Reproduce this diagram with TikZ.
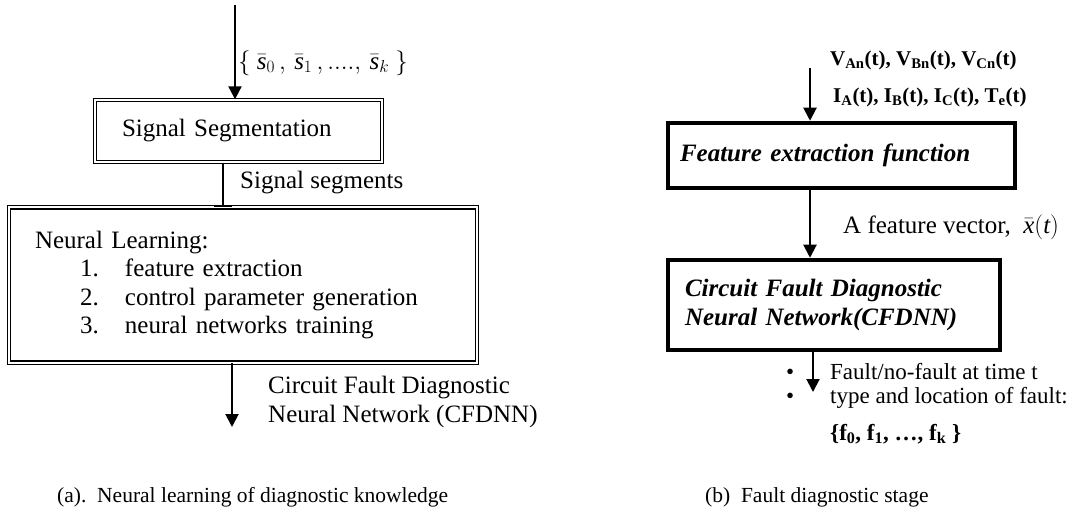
\documentclass[tikz,border=0pt]{standalone}
\usepackage{fontspec}
\setmainfont{Liberation Serif}
\usepackage{tikz}
\usetikzlibrary{arrows.meta,positioning}
\newcommand{\bodysize}{\fontsize{25}{28.5}\selectfont}
\newcommand{\labsize}{\fontsize{21}{24}\selectfont}
\newcommand{\listsize}{\fontsize{23}{26}\selectfont}
\newcommand{\capsize}{\fontsize{21.5}{24}\selectfont}
\newcommand{\sbar}{\bar{\mbox{\itshape s}}}
\newcommand{\xbar}{\bar{\mbox{\itshape x}}}
\tikzstyle{dblbox} = [draw, double, double distance=2pt, line width=1.3pt, inner sep=0pt, align=left, font=\bodysize]
\tikzstyle{heavybox} = [draw, line width=4.5pt, inner sep=0pt, align=left, font=\bodysize\bfseries\itshape]
\tikzstyle{arrow} = [line width=2pt, -{Triangle[length=13pt,width=13pt]}]
\tikzstyle{lab} = [anchor=west, inner sep=0pt, font=\bodysize]

\begin{document}
\begin{tikzpicture}[x=1pt, y=-1pt]
\useasboundingbox (0,0) rectangle (1086,518);

% (a) learning stage
\node[dblbox, minimum width=287pt, minimum height=62pt, text width=233pt] (seg) at (238.5,131) {Signal Segmentation};
\node[dblbox, minimum width=468pt, minimum height=155pt, text width=416pt] (learn) at (243,285) {Neural Learning:\\
\hspace*{45pt}\makebox[45pt][l]{1.}feature extraction\\
\hspace*{45pt}\makebox[45pt][l]{2.}control parameter generation\\
\hspace*{45pt}\makebox[45pt][l]{3.}neural networks training};

\coordinate (sigin) at (235,5);
\coordinate (segout) at (223,0);
\coordinate (netout) at (232,427);
\draw[arrow] (sigin) -- (sigin |- seg.north);
\draw[line width=2pt, -{Bar[width=18pt]}] (segout |- seg.south) -- (segout |- learn.north);
\draw[arrow] (learn.south -| netout) -- (netout);

\node[lab] (siglab) at (238,63) {$\{\ \sbar_0\,,\,\sbar_1\,,....,\,\sbar_k\ \}$};
\node[lab] (seglab) at (240,183) {Signal segments};
\node[lab, align=left] (netlab) at (268,402) {Circuit Fault Diagnostic\\Neural Network (CFDNN)};

% (b) diagnostic stage
\node[heavybox, minimum width=347pt, minimum height=65pt, text width=323pt] (feat) at (841.5,155.5) {Feature extraction function};
\node[heavybox, minimum width=332pt, minimum height=90pt, text width=298pt] (cfdnn) at (834,305) {Circuit Fault Diagnostic\\Neural Network(CFDNN)};

\coordinate (meas) at (810,68);
\coordinate (diag) at (813,392);
\draw[arrow] (meas) -- (meas |- feat.north);
\draw[arrow] (feat.south -| meas) -- (cfdnn.north -| meas);
\draw[arrow] (cfdnn.south -| diag) -- (diag);

\node[lab, font=\labsize\bfseries] (vlab) at (830,60) {V\textsubscript{An}(t), V\textsubscript{Bn}(t), V\textsubscript{Cn}(t)};
\node[lab, font=\labsize\bfseries] (ilab) at (833,97) {I\textsubscript{A}(t), I\textsubscript{B}(t), I\textsubscript{C}(t), T\textsubscript{e}(t)};
\node[lab] (xlab) at (843,227) {A feature vector,\ \ $\xbar(\mbox{\itshape t})$};
\node[lab, font=\listsize] (res1) at (786,372) {\makebox[44pt][l]{\textbullet}Fault/no-fault at time t};
\node[lab, font=\listsize] (res2) at (786,398) {\makebox[44pt][l]{\textbullet}type and location of fault:};
\node[lab, font=\listsize\bfseries] (res3) at (830,434) {\{f\textsubscript{0}, f\textsubscript{1}, \dots, f\textsubscript{k} \}};

% captions
\node[lab, font=\capsize] (capa) at (57,497) {(a).\ \ Neural learning of diagnostic knowledge};
\node[lab, font=\capsize] (capb) at (705,497) {(b)\ \ Fault diagnostic stage};
\end{tikzpicture}
\end{document}
